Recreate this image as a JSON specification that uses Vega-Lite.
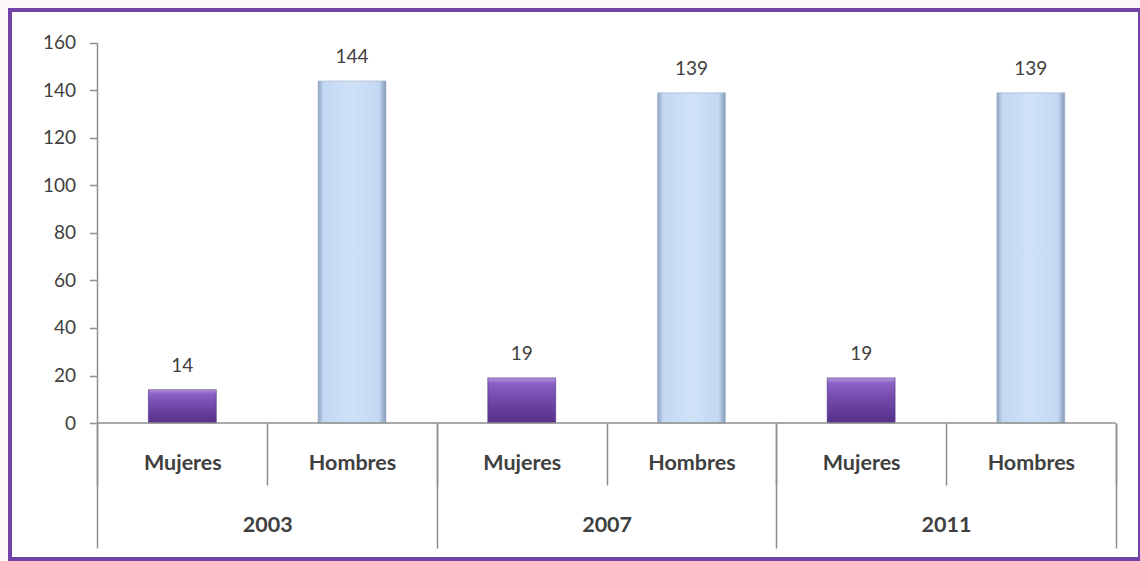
{
  "$schema": "https://vega.github.io/schema/vega-lite/v6.json",
  "autosize": "none",
  "width": 1130,
  "height": 549,
  "padding": {"left": 10, "top": 10, "right": 0, "bottom": 2},
  "background": "#fdf7fc",
  "config": {
    "view": {"stroke": "#7143a6", "strokeWidth": 4, "fill": "white"},
    "font": "Lato",
    "axis": {"grid": false}
  },
  "data": {
    "values": [
      {"year": "2003", "sex": "Mujeres", "key": "2003-Mujeres", "value": 14},
      {"year": "2003", "sex": "Hombres", "key": "2003-Hombres", "value": 144},
      {"year": "2007", "sex": "Mujeres", "key": "2007-Mujeres", "value": 19},
      {"year": "2007", "sex": "Hombres", "key": "2007-Hombres", "value": 139},
      {"year": "2011", "sex": "Mujeres", "key": "2011-Mujeres", "value": 19},
      {"year": "2011", "sex": "Hombres", "key": "2011-Hombres", "value": 139}
    ]
  },
  "layer": [
    {
      "layer": [
        {
          "transform": [{"filter": "datum.sex === 'Mujeres'"}],
          "mark": {
            "type": "bar",
            "width": {"band": 0.4},
            "fill": {
              "gradient": "linear", "x1": 0, "y1": 0, "x2": 0, "y2": 1,
              "stops": [
                {"offset": 0, "color": "#b699de"},
                {"offset": 0.12, "color": "#8a60c4"},
                {"offset": 0.5, "color": "#7048a8"},
                {"offset": 1, "color": "#55308a"}
              ]
            },
            "stroke": "#4d2c7e",
            "strokeWidth": 0.6
          },
          "encoding": {
            "x": {
              "field": "key", "type": "nominal",
              "scale": {
                "domain": ["2003-Mujeres", "2003-Hombres", "2007-Mujeres", "2007-Hombres", "2011-Mujeres", "2011-Hombres"],
                "paddingInner": 0, "paddingOuter": 0.3294, "align": 0.7826
              },
              "axis": {
                "orient": "bottom", "offset": -136, "domain": false,
                "tickBand": "extent", "tickSize": 62, "tickColor": "#8e8e8e", "tickWidth": 1.5,
                "labelExpr": "split(datum.value, '-')[1]",
                "labelFont": "Lato", "labelFontWeight": "bold", "labelFontSize": 21.5, "labelColor": "#404040",
                "labelPadding": -22, "labelBaseline": "middle", "labelAngle": 0, "title": null
              }
            },
            "y": {
              "field": "value", "type": "quantitative",
              "scale": {"domain": [-57.26, 173.89], "nice": false, "zero": false},
              "axis": {
                "values": [0, 20, 40, 60, 80, 100, 120, 140, 160],
                "title": null, "domain": false, "offset": -87.5,
                "tickSize": 8, "tickColor": "#8e8e8e", "tickWidth": 1.5,
                "labelPadding": 14, "labelFont": "Lato", "labelFontSize": 19, "labelColor": "#404040"
              }
            }
          }
        },
        {
          "transform": [{"filter": "datum.sex === 'Hombres'"}],
          "mark": {
            "type": "bar",
            "width": {"band": 0.4},
            "fill": {
              "gradient": "linear", "x1": 0, "y1": 0, "x2": 1, "y2": 0,
              "stops": [
                {"offset": 0, "color": "#8ea3c0"},
                {"offset": 0.08, "color": "#c3d8f1"},
                {"offset": 0.5, "color": "#cfe2f8"},
                {"offset": 0.9, "color": "#c3d8f1"},
                {"offset": 1, "color": "#8498b5"}
              ]
            },
            "stroke": "#9fb2cc",
            "strokeWidth": 0.6
          },
          "encoding": {
            "x": {"field": "key", "type": "nominal"},
            "y": {"field": "value", "type": "quantitative"}
          }
        },
        {
          "mark": {"type": "text", "font": "Lato", "fontSize": 19, "color": "#404040", "baseline": "middle", "dy": -24},
          "encoding": {
            "x": {"field": "key", "type": "nominal"},
            "y": {"field": "value", "type": "quantitative"},
            "text": {"field": "value", "type": "quantitative"}
          }
        },
        {
          "data": {"values": [{}]},
          "mark": {"type": "rule", "color": "#8e8e8e", "strokeWidth": 1.5},
          "encoding": {
            "x": {"datum": "2003-Mujeres", "type": "nominal", "bandPosition": 0},
            "x2": {"datum": "2011-Hombres", "bandPosition": 1},
            "y": {"datum": 0, "type": "quantitative"}
          }
        },
        {
          "data": {"values": [{}]},
          "mark": {"type": "rule", "color": "#8e8e8e", "strokeWidth": 1.5},
          "encoding": {
            "x": {"datum": "2003-Mujeres", "type": "nominal", "bandPosition": 0},
            "y": {"datum": 0, "type": "quantitative"},
            "y2": {"datum": 160}
          }
        }
      ]
    },
    {
      "mark": {"type": "point", "opacity": 0},
      "encoding": {
        "x": {
          "field": "year", "type": "ordinal",
          "scale": {"domain": ["2003", "2007", "2011"], "paddingInner": 0, "paddingOuter": 0.1647, "align": 0.7826},
          "axis": {
            "orient": "bottom", "offset": -136, "domain": false,
            "tickBand": "extent", "tickSize": 125, "tickColor": "#8e8e8e", "tickWidth": 1.5,
            "labelFont": "Lato", "labelFontWeight": "bold", "labelFontSize": 21.5, "labelColor": "#404040",
            "labelPadding": -23, "labelBaseline": "middle", "labelAngle": 0, "title": null
          }
        }
      }
    }
  ],
  "resolve": {"scale": {"x": "independent"}, "axis": {"x": "independent"}}
}
